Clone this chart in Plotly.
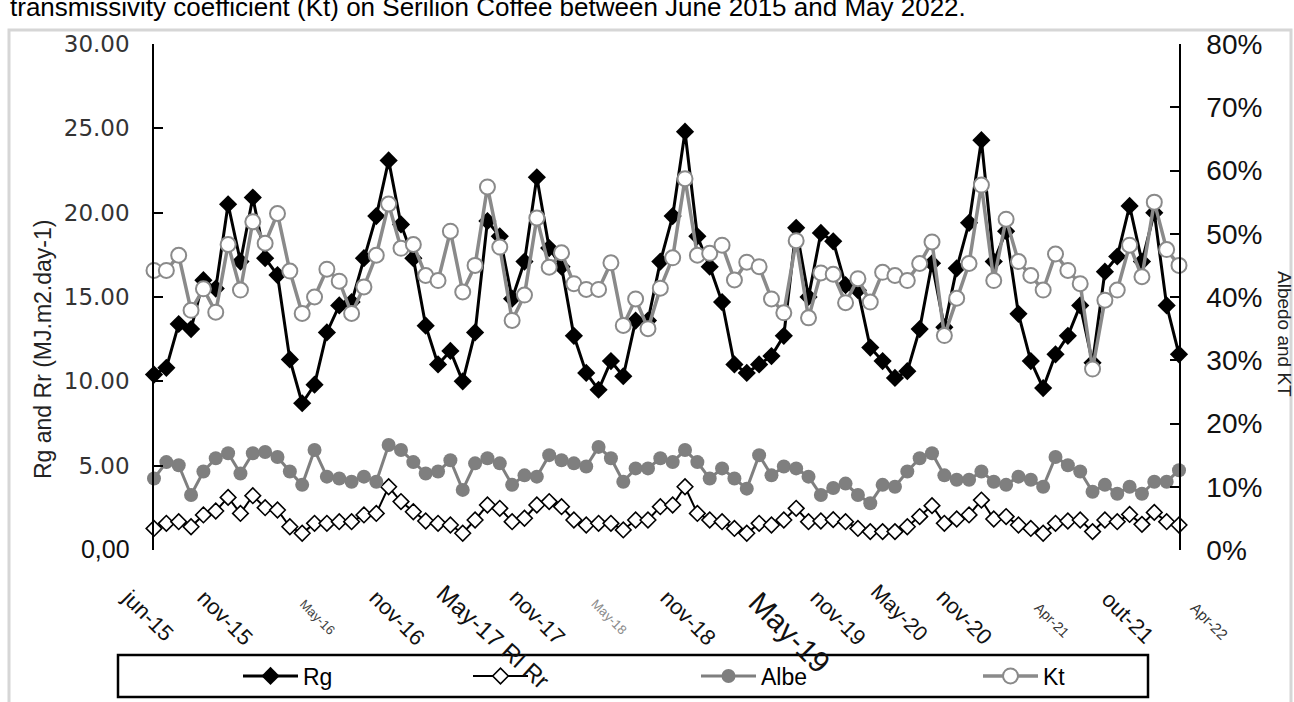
import plotly.graph_objects as go
import pandas as pd

# ---------------- data ----------------
months = list(pd.date_range("2015-06-01", periods=84, freq="MS").strftime("%b-%y"))

rg = [10.4, 10.8, 13.4, 13.1, 16.0, 15.5, 20.5, 17.1, 20.9, 17.3, 16.3, 11.3, 8.7, 9.8,
      12.9, 14.5, 14.7, 17.3, 19.8, 23.1, 19.3, 17.3, 13.3, 11.0, 11.8, 10.0, 12.9, 19.5,
      18.6, 14.9, 17.1, 22.1, 17.9, 16.8, 12.7, 10.5, 9.5, 11.2, 10.3, 13.6, 13.6, 17.1,
      19.8, 24.8, 18.6, 16.8, 14.7, 11.0, 10.5, 11.0, 11.5, 12.7, 19.1, 15.0, 18.8, 18.3,
      15.7, 15.4, 12.0, 11.2, 10.2, 10.6, 13.1, 17.0, 13.2, 16.7, 19.4, 24.3, 17.1, 18.9,
      14.0, 11.2, 9.6, 11.6, 12.7, 14.5, 11.1, 16.5, 17.4, 20.4, 17.1, 20.0, 14.5, 11.6]

rr = [1.28, 1.58, 1.68, 1.38, 2.08, 2.31, 3.12, 2.17, 3.22, 2.51, 2.37, 1.38, 0.99, 1.58,
      1.58, 1.68, 1.68, 2.08, 2.17, 3.75, 2.87, 2.27, 1.72, 1.58, 1.48, 0.99, 1.78, 2.67,
      2.47, 1.68, 1.88, 2.67, 2.87, 2.57, 1.78, 1.48, 1.58, 1.58, 1.19, 1.78, 1.78, 2.57,
      2.67, 3.75, 2.17, 1.78, 1.68, 1.28, 0.99, 1.58, 1.48, 1.78, 2.47, 1.68, 1.72, 1.80,
      1.68, 1.28, 1.09, 1.09, 1.09, 1.38, 1.98, 2.63, 1.58, 1.84, 2.08, 2.96, 1.84, 1.98,
      1.48, 1.28, 0.99, 1.58, 1.72, 1.78, 1.09, 1.78, 1.68, 2.11, 1.52, 2.23, 1.68, 1.48]

albedo = [11.3, 13.9, 13.4, 8.7, 12.4, 14.5, 15.3, 12.1, 15.3, 15.5, 14.7, 12.4, 10.3, 15.8,
          11.6, 11.3, 10.8, 11.6, 10.8, 16.6, 15.8, 13.9, 12.1, 12.4, 14.2, 9.5, 13.7, 14.5,
          13.7, 10.3, 11.8, 11.6, 15.0, 14.2, 13.7, 13.2, 16.3, 14.5, 10.8, 12.9, 12.9, 14.5,
          13.9, 15.8, 13.9, 11.3, 12.9, 11.3, 9.7, 15.0, 11.8, 13.2, 12.9, 11.6, 8.7, 9.8,
          10.5, 8.7, 7.4, 10.3, 10.0, 12.4, 14.5, 15.3, 11.8, 11.1, 11.1, 12.4, 10.8, 10.3,
          11.6, 11.1, 10.0, 14.7, 13.4, 12.4, 9.2, 10.3, 8.9, 10.0, 8.9, 10.8, 10.8, 12.6]

kt = [44.2, 44.2, 46.6, 37.9, 41.3, 37.6, 48.3, 41.1, 51.9, 48.5, 53.2, 44.1, 37.4, 40.0,
      44.4, 42.5, 37.4, 41.6, 46.6, 54.7, 47.7, 48.3, 43.4, 42.6, 50.4, 40.8, 45.0, 57.4,
      47.9, 36.3, 40.3, 52.5, 44.7, 47.0, 42.1, 41.2, 41.2, 45.4, 35.5, 39.7, 35.0, 41.4,
      46.2, 58.7, 46.6, 46.9, 48.2, 42.7, 45.5, 44.8, 39.7, 37.5, 48.9, 36.7, 43.8, 43.6,
      39.1, 42.9, 39.2, 43.9, 43.4, 42.6, 45.3, 48.7, 33.9, 39.8, 45.3, 57.7, 42.6, 52.3,
      45.6, 43.4, 41.1, 46.8, 44.2, 42.1, 28.6, 39.5, 41.1, 48.2, 43.2, 55.0, 47.5, 45.0]

x_tick_index = [0, 5, 11, 17, 23, 29, 35, 41, 47, 53, 59, 65, 70, 76, 82]
x_tick_text = ["jun-15", "nov-15", "May-16", "nov-16", "May-17 Rl Rr", "nov-17", "May-18",
               "nov-18", "May-19", "nov-19", "May-20", "nov-20", "Apr-21", "out-21", "Apr-22"]

left_tick_vals = [0, 5, 10, 15, 20, 25, 30]
left_tick_text = ["<span style='font-family:Liberation Sans;font-size:25px;fill:#111'>0,00</span>",
                  "5.00", "10.00", "15.00", "20.00", "25.00", "30.00"]

series_names = ["Rg", "Rr", "Albe", "Kt"]
caption = "transmissivity coefficient (Kt) on Serilion Coffee between June 2015 and May 2022."

# ---------------- styling / geometry ----------------
W, H = 1294, 702
L, R, T, B = 154, 115, 44, 152
PW, PH = W - L - R, H - T - B

def px(xp):  # pixel -> paper x
    return (xp - L) / PW

def py(yp):  # pixel -> paper y
    return (H - B - yp) / PH

x_idx = list(range(len(months)))
GREY = "#7f7f7f"
KTGREY = "#8a8a8a"

fig = go.Figure()
fig.add_trace(go.Scatter(x=x_idx, y=rg, name=series_names[0], mode="lines+markers",
                         line=dict(color="black", width=3),
                         marker=dict(symbol="diamond", size=14, color="black"),
                         cliponaxis=False, legend="legend"))
fig.add_trace(go.Scatter(x=x_idx, y=rr, name=series_names[1], mode="lines+markers",
                         line=dict(color="black", width=2),
                         marker=dict(symbol="diamond", size=12, color="white",
                                     line=dict(color="black", width=1.6)),
                         cliponaxis=False, legend="legend2"))
fig.add_trace(go.Scatter(x=x_idx, y=[v / 100 for v in albedo], name=series_names[2],
                         mode="lines+markers", yaxis="y2",
                         line=dict(color=GREY, width=3),
                         marker=dict(symbol="circle", size=14, color=GREY),
                         cliponaxis=False, legend="legend3"))
fig.add_trace(go.Scatter(x=x_idx, y=[v / 100 for v in kt], name=series_names[3],
                         mode="lines+markers", yaxis="y2",
                         line=dict(color=KTGREY, width=3.5),
                         marker=dict(symbol="circle", size=15, color="white",
                                     line=dict(color=KTGREY, width=2)),
                         cliponaxis=False, legend="legend4"))

# x tick label styles (center pixel, font size, colour, angle)
lab_style = [
    (148, 615, 22, "#111", 45), (225, 617, 22, "#111", 45), (318, 617, 13, "#444", 45),
    (397, 617, 22, "#111", 45), (493, 636, 24, "#111", 42), (538, 617, 22, "#111", 45),
    (609, 616, 13, "#8a8a8a", 45), (688, 617, 22, "#111", 45), (790, 632, 30, "#111", 45),
    (838, 617, 22, "#111", 45), (900, 612, 21, "#111", 45), (965, 617, 22, "#111", 45),
    (1052, 620, 14, "#333", 45), (1128, 617, 22, "#111", 45), (1210, 621, 15, "#333", 45),
]
annotations = []
step = PW / (len(months) - 1)
for i, t, (cx, cy, fs, col, ang) in zip(x_tick_index, x_tick_text, lab_style):
    annotations.append(dict(x=i, xref="x", y=py(cy), yref="paper", text=t, showarrow=False,
                            xanchor="center", yanchor="middle", textangle=ang,
                            xshift=cx - (L + step * i),
                            font=dict(family="Liberation Sans", size=fs, color=col)))

annotations += [
    dict(x=px(8), y=py(7), xref="paper", yref="paper", text=caption, showarrow=False,
         xanchor="left", yanchor="middle",
         font=dict(family="Liberation Sans", size=26, color="black")),
    dict(x=px(43), y=py(350), xref="paper", yref="paper", text="Rg and Rr (MJ.m2.day-1)",
         showarrow=False, textangle=-90, xanchor="center", yanchor="middle",
         font=dict(family="Liberation Sans", size=23, color="#222")),
    dict(x=px(1285), y=py(334), xref="paper", yref="paper", text="Albedo and KT",
         showarrow=False, textangle=90, xanchor="center", yanchor="middle",
         font=dict(family="Liberation Sans", size=19, color="#222")),
]

shapes = [
    dict(type="rect", xref="paper", yref="paper", x0=px(9), x1=px(1291), y0=py(715), y1=py(30),
         line=dict(color="#d6d6d6", width=3), layer="below"),
    dict(type="rect", xref="paper", yref="paper", x0=px(118), x1=px(1148), y0=py(697), y1=py(655),
         line=dict(color="black", width=2.5)),
]

def leg(xpix, color="black"):
    return dict(orientation="h", x=px(xpix), xanchor="left", y=py(676), yanchor="middle",
                bgcolor="rgba(0,0,0,0)", borderwidth=0, itemwidth=55,
                font=dict(family="Liberation Sans", size=23, color=color))

fig.update_layout(
    width=W, height=H,
    margin=dict(l=L, r=R, t=T, b=B, autoexpand=False),
    paper_bgcolor="white", plot_bgcolor="white",
    showlegend=True,
    legend=leg(238),
    legend2=leg(468, "rgba(0,0,0,0)"),
    legend3=leg(696),
    legend4=leg(978),
    xaxis=dict(range=[0, len(months) - 1], showticklabels=False, showgrid=False,
               zeroline=False, showline=False, ticks=""),
    yaxis=dict(range=[0, 30], tickvals=left_tick_vals, ticktext=left_tick_text,
               showgrid=False, zeroline=False, showline=True, linecolor="black", linewidth=1.5,
               ticks="inside", ticklen=9, tickcolor="black", tickwidth=1.5,
               ticklabelstandoff=18,
               tickfont=dict(family="DejaVu Sans", size=23, color="#333")),
    yaxis2=dict(range=[0, 0.8], overlaying="y", side="right", dtick=0.1, tick0=0,
                tickformat=".0%", showgrid=False, zeroline=False, showline=True,
                linecolor="black", linewidth=1.5, ticks="inside", ticklen=9,
                tickcolor="black", tickwidth=1.5, ticklabelstandoff=20,
                tickfont=dict(family="Liberation Sans", size=28, color="#111")),
    annotations=annotations,
    shapes=shapes,
)

fig.write_html("out.html", config={"displayModeBar": False},
               post_script="document.body.style.margin='0px';")
